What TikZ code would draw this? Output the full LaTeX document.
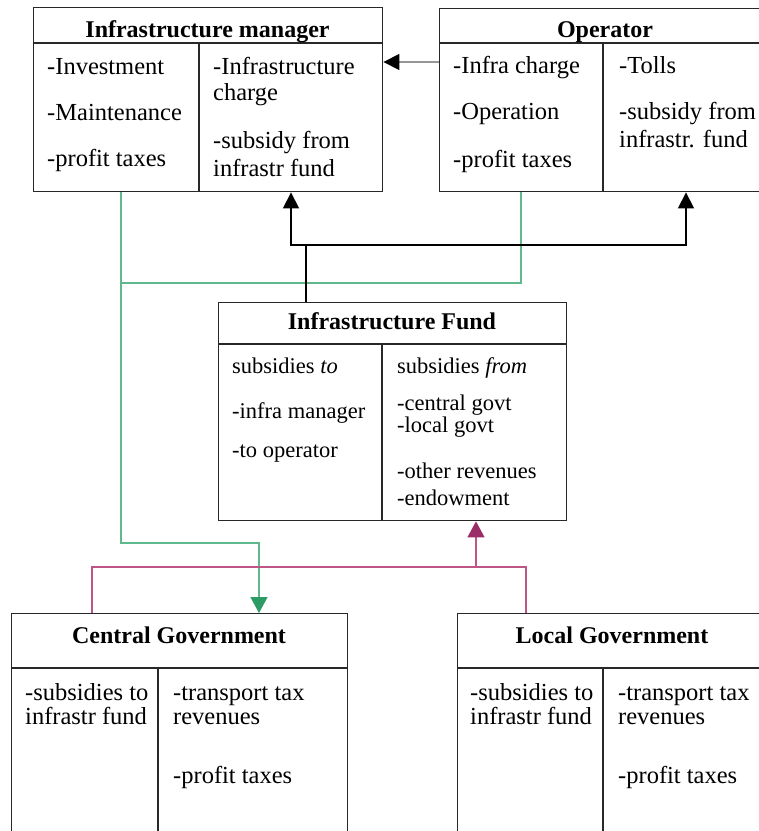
\documentclass[tikz,border=0pt]{standalone}
\usepackage{fontspec}
\setmainfont{Liberation Serif}
\usetikzlibrary{arrows.meta,calc}
\definecolor{edge}{RGB}{40,40,40}
\definecolor{grn}{RGB}{95,185,140}
\definecolor{grnarrow}{RGB}{45,155,100}
\definecolor{prp}{RGB}{190,85,135}
\definecolor{prparrow}{RGB}{155,45,105}
\definecolor{gry}{RGB}{150,150,150}
\begin{document}
\begin{tikzpicture}[x=1pt,y=-1pt,
  box/.style={draw=edge,line width=1.4pt,rectangle,anchor=north west,inner sep=0pt},
  divider/.style={draw=edge,line width=1.4pt},
  txt/.style={anchor=base west,inner sep=0pt,font=\fontsize{24.5}{26}\selectfont},
  stxt/.style={anchor=base west,inner sep=0pt,font=\fontsize{22.5}{26}\selectfont},
  ttl/.style={anchor=base,inner sep=0pt,font=\fontsize{24}{26}\selectfont\bfseries},
  blk/.style={draw=black,line width=1.3pt},
  grnline/.style={draw=grn,line width=1.3pt},
  prpline/.style={draw=prp,line width=1.3pt},
  tipblk/.style={-{Triangle[width=16pt,length=16pt,color=black]}},
  tipgrn/.style={-{Triangle[width=17pt,length=16pt,color=grnarrow]}},
  tipprp/.style={-{Triangle[width=17pt,length=16pt,color=prparrow]}}]
\useasboundingbox (0,0) rectangle (759,831);
\clip (0,0) rectangle (759,831);
\fill[white] (0,0) rectangle (759,831);

% Infrastructure manager
\node[box,minimum width=349pt,minimum height=184pt] (im) at (33,7) {};
\draw[divider] (33,43) -- (382,43) (199,43) -- (199,191);
\node[ttl] (imt) at (207.5,37) {Infrastructure manager};
\node[txt] (im1) at (47,74) {-Investment};
\node[txt] (im2) at (47,120.5) {-Maintenance};
\node[txt] (im3) at (47,166.5) {-profit taxes};
\node[txt] (im4) at (213,74) {-Infrastructure};
\node[txt] (im5) at (213,100) {charge};
\node[txt] (im6) at (213,148) {-subsidy from};
\node[txt] (im7) at (213,176.5) {infrastr fund};

% Operator
\node[box,minimum width=332pt,minimum height=183pt] (op) at (439,8) {};
\draw[divider] (439,43) -- (771,43) (603,43) -- (603,191);
\node[ttl] (opt) at (605,37) {Operator};
\node[txt] (op1) at (453,73) {-Infra charge};
\node[txt] (op2) at (453,119) {-Operation};
\node[txt] (op3) at (453,167) {-profit taxes};
\node[txt] (op4) at (619,73) {-Tolls};
\node[txt] (op5) at (619,119) {-subsidy from};
\node[txt] (op6) at (619,147) {infrastr. fund};

% Infrastructure Fund
\node[box,minimum width=348pt,minimum height=218pt] (fund) at (218,302) {};
\draw[divider] (218,344) -- (566,344) (382,344) -- (382,520);
\node[ttl] (fundt) at (392,329) {Infrastructure Fund};
\node[stxt] (f1) at (232,373) {subsidies \textit{to}};
\node[stxt] (f2) at (232,418) {-infra manager};
\node[stxt] (f3) at (232,457) {-to operator};
\node[stxt] (f4) at (397,373) {subsidies \textit{from}};
\node[stxt] (f5) at (397,410) {-central govt};
\node[stxt] (f6) at (397,432) {-local govt};
\node[stxt] (f7) at (397,478) {-other revenues};
\node[stxt] (f8) at (397,505) {-endowment};

% Central Government
\node[box,minimum width=336pt,minimum height=240pt] (cg) at (11,613) {};
\draw[divider] (11,668) -- (347,668) (158,668) -- (158,853);
\node[ttl] (cgt) at (179,643) {Central Government};
\node[txt] (cg1) at (25,700) {-subsidies to};
\node[txt] (cg2) at (25,724) {infrastr fund};
\node[txt] (cg3) at (173,700) {-transport tax};
\node[txt] (cg4) at (173,724) {revenues};
\node[txt] (cg5) at (173,783) {-profit taxes};

% Local Government
\node[box,minimum width=310pt,minimum height=240pt] (lg) at (457,613) {};
\draw[divider] (457,668) -- (767,668) (603,668) -- (603,853);
\node[ttl] (lgt) at (612,643) {Local Government};
\node[txt] (lg1) at (470,700) {-subsidies to};
\node[txt] (lg2) at (470,724) {infrastr fund};
\node[txt] (lg3) at (618,700) {-transport tax};
\node[txt] (lg4) at (618,724) {revenues};
\node[txt] (lg5) at (618,783) {-profit taxes};

% connector coordinates
\coordinate (opW) at (op.west |- 0,62);
\coordinate (imE) at (im.east |- 0,62);
\coordinate (imBg) at ($(im.south west)+(88,0)$);
\coordinate (opBg) at ($(op.south west)+(82,0)$);
\coordinate (imBb) at ($(im.south west)+(258,0)$);
\coordinate (opBb) at ($(op.south west)+(247,0)$);
\coordinate (fundT) at ($(fund.north west)+(88,0)$);
\coordinate (fundB) at ($(fund.south west)+(258,0)$);
\coordinate (cgTg) at ($(cg.north west)+(248,0)$);
\coordinate (cgTp) at ($(cg.north west)+(81,0)$);
\coordinate (lgTp) at ($(lg.north west)+(69,0)$);
\coordinate (jb) at (306,245);
\coordinate (jg) at (121,283);
\coordinate (kg) at (121,543);
\coordinate (jp) at (476,567);

% gray: operator -> infrastructure manager
\draw[draw=gry,line width=1.3pt,tipblk] (opW) -- (imE);
% green connectors
\draw[grnline] (opBg) |- (jg);
\draw[grnline,tipgrn] (imBg) -- (kg) -| (cgTg);
% black: fund -> manager and operator
\draw[blk] (fundT) -- (jb);
\draw[blk,tipblk] (jb) -| (imBb);
\draw[blk,tipblk] (jb) -| (opBb);
% purple: governments -> fund
\draw[prpline,tipprp] (cgTp) |- (jp) -- (fundB);
\draw[prpline] (lgTp) |- (jp);
\end{tikzpicture}
\end{document}
